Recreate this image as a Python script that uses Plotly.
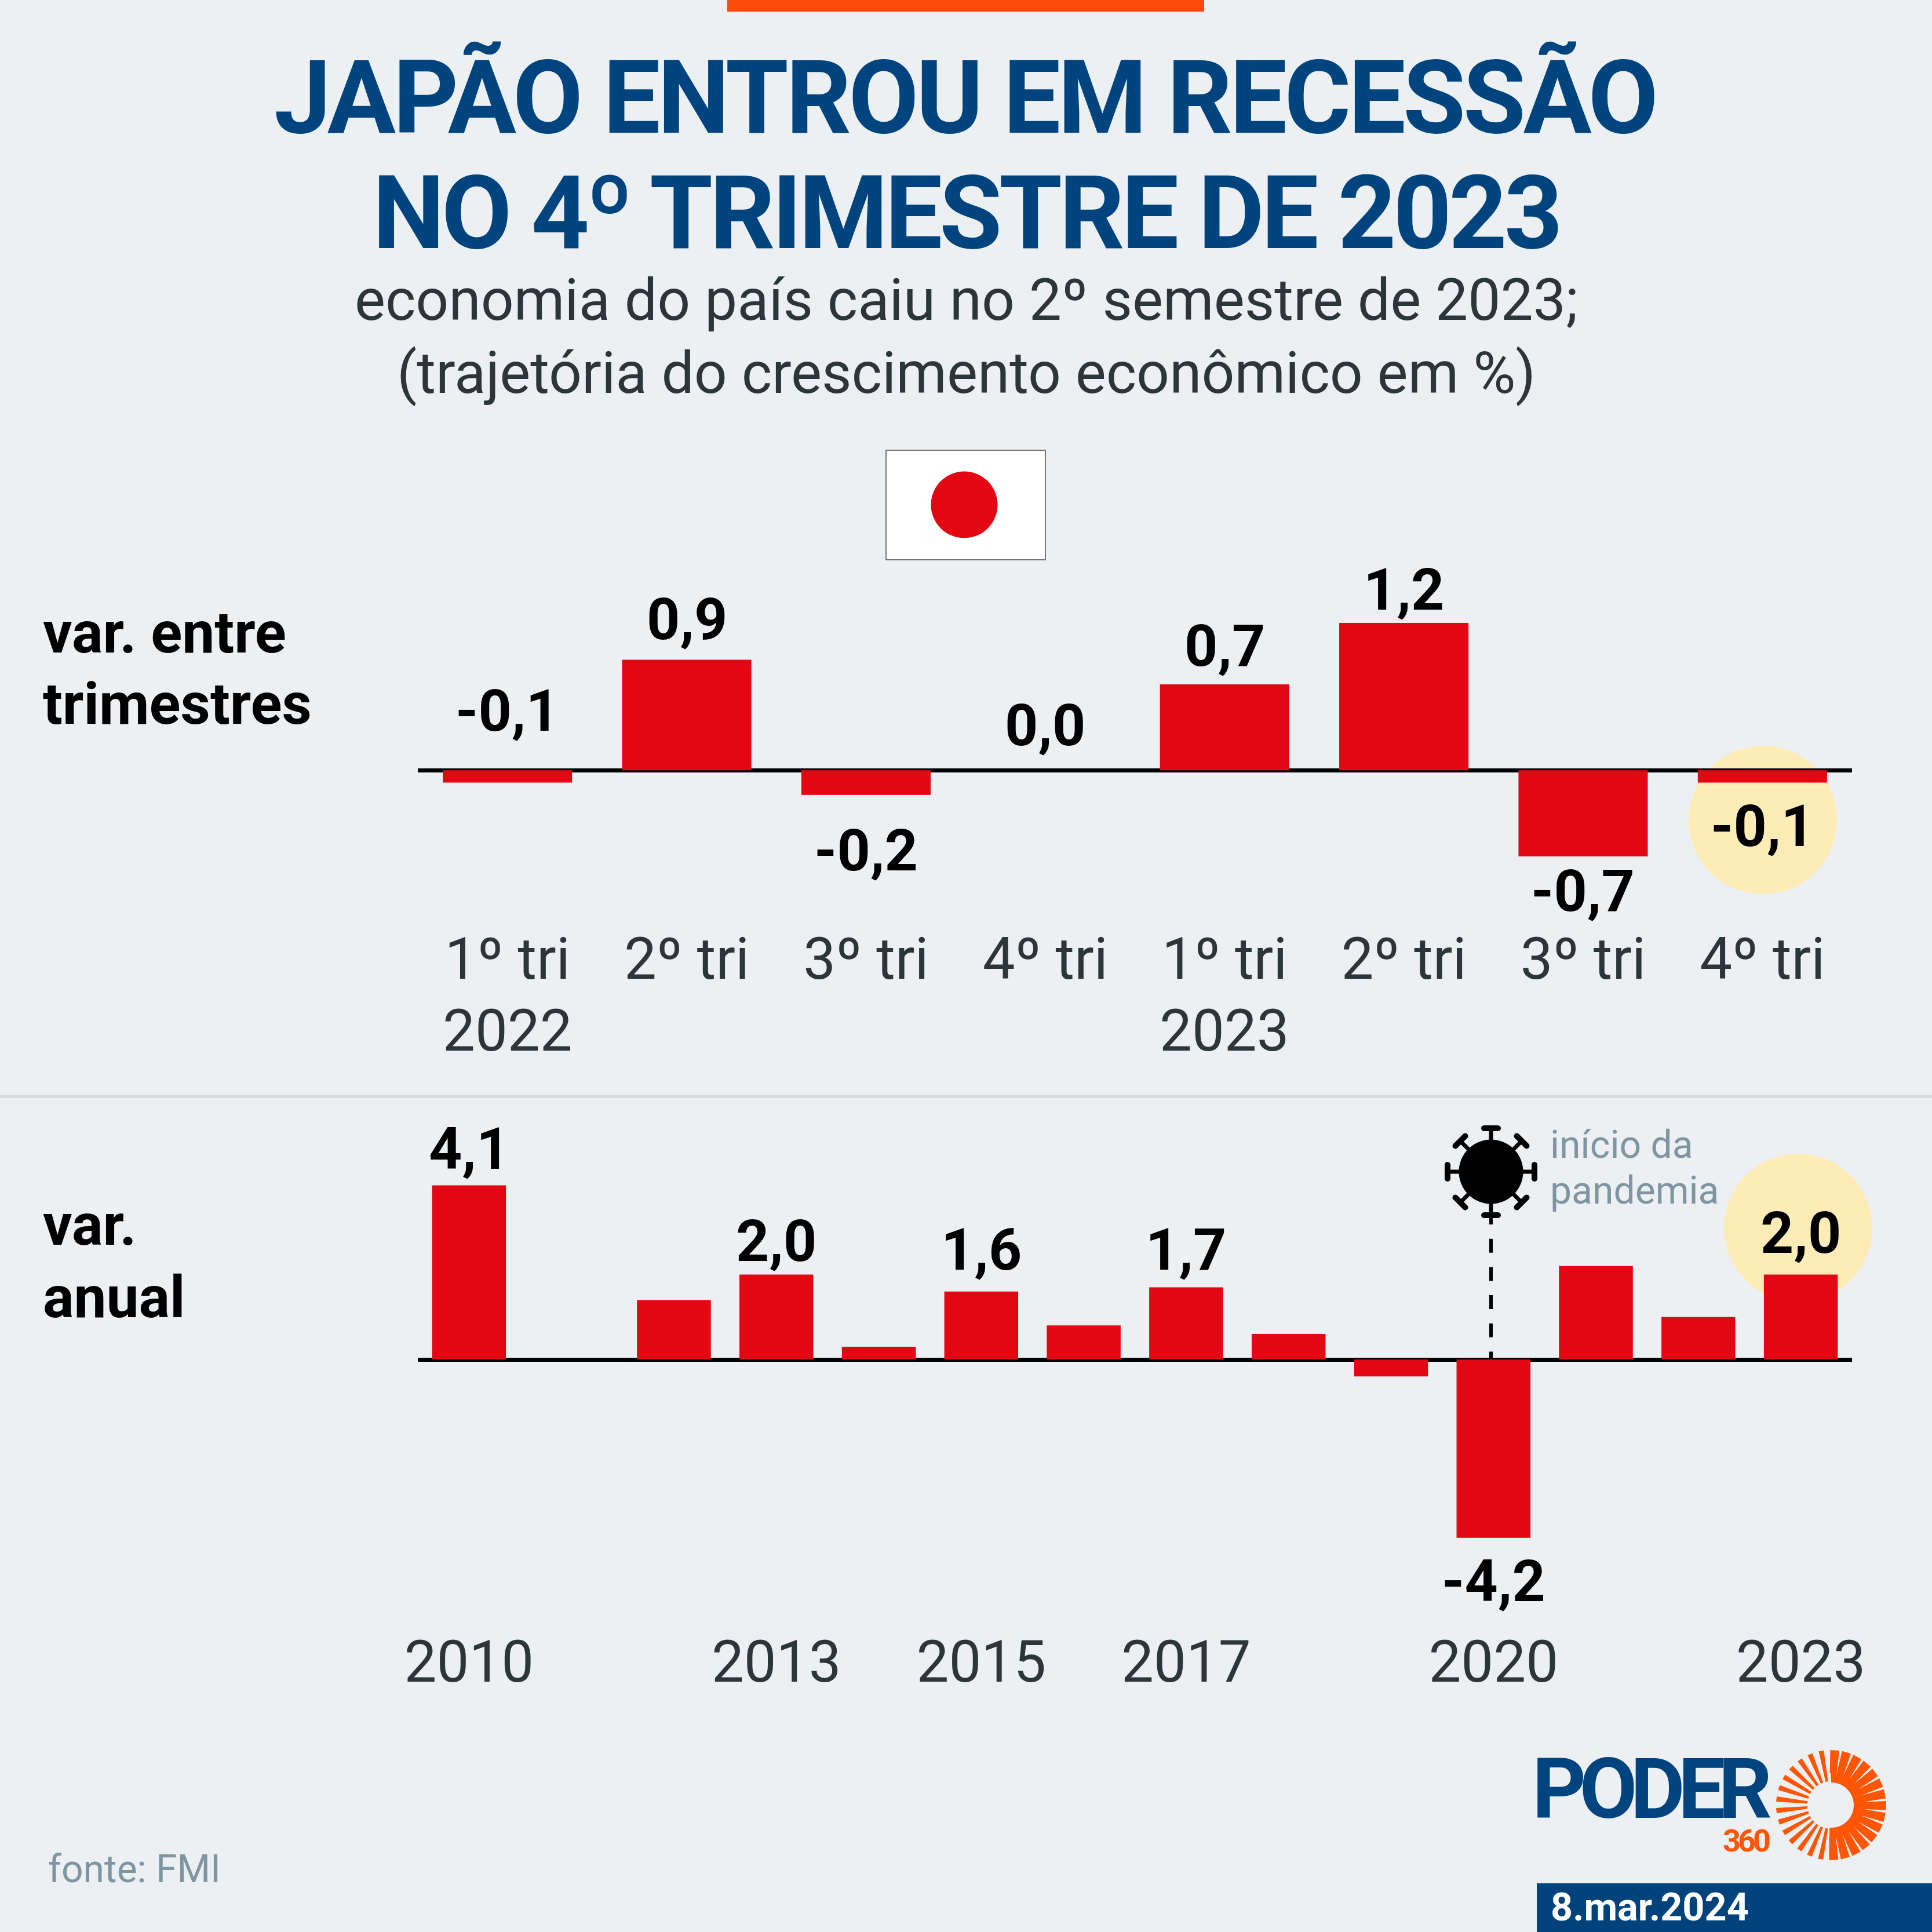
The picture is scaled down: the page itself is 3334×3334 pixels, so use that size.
import math
import plotly.graph_objects as go

# ---- data ----
quarter_labels = ["1º tri", "2º tri", "3º tri", "4º tri", "1º tri", "2º tri", "3º tri", "4º tri"]
quarter_values = [-0.1, 0.9, -0.2, 0.0, 0.7, 1.2, -0.7, -0.1]
quarter_years = {0: "2022", 4: "2023"}

years = [2010, 2011, 2012, 2013, 2014, 2015, 2016, 2017, 2018, 2019, 2020, 2021, 2022, 2023]
year_values = [4.1, 0.0, 1.4, 2.0, 0.3, 1.6, 0.8, 1.7, 0.6, -0.4, -4.2, 2.2, 1.0, 2.0]
year_ticks = [2010, 2013, 2015, 2017, 2020, 2023]

# ---- layout constants (page pixels) ----
W = H = 3334
BG = "#ECF0F3"
RED = "#E30613"
NAVY = "#00447F"
ORANGE = "#FF5605"
DARK = "#2C3539"
GREY = "#7F95A1"
CREAM = "#FEECB6"
ROBOTO = "Roboto"

PX = lambda x: x / W
PY = lambda y: 1 - y / H

quarter_label_y = [1226, 1068, 1467, 1252, 1114, 1017, 1537, 1426]
year_label_y = {2010: 1982, 2013: 2141, 2015: 2156, 2017: 2156, 2020: 2728, 2023: 2127}


def fmt(v):
    return f"{v:.1f}".replace(".", ",")


annotations = []


def txt(x, y, text, size, color, bold=False, anchor="center", xref="paper", spacing=None):
    if spacing is not None:
        text = f'<span style="letter-spacing:{spacing}px">{text}</span>'
    annotations.append(dict(
        x=x if xref != "paper" else PX(x), y=PY(y), xref=xref, yref="paper",
        text=text, showarrow=False, xanchor=anchor, yanchor="middle",
        font=dict(family=ROBOTO, size=size, color=color, weight=700 if bold else 400),
    ))


shapes = []


def rect(x0, y0, x1, y1, fill, line=None, lw=0, layer="below"):
    shapes.append(dict(type="rect", xref="paper", yref="paper", x0=PX(x0), x1=PX(x1),
                       y0=PY(y0), y1=PY(y1), fillcolor=fill, layer=layer,
                       line=dict(color=line or fill, width=lw)))


def circle(cx, cy, r, fill, layer="below"):
    shapes.append(dict(type="circle", xref="paper", yref="paper", x0=PX(cx - r), x1=PX(cx + r),
                       y0=PY(cy - r), y1=PY(cy + r), fillcolor=fill, layer=layer,
                       line=dict(width=0)))


def poly(points, fill, layer="above"):
    path = "M " + " L ".join(f"{PX(x):.6f},{PY(y):.6f}" for x, y in points) + " Z"
    shapes.append(dict(type="path", path=path, xref="paper", yref="paper",
                       fillcolor=fill, layer=layer, line=dict(width=0)))


def capsule(x0, y0, x1, y1, w, fill):
    ang = math.atan2(y1 - y0, x1 - x0)
    pts = []
    for k in range(9):
        a = ang + math.pi / 2 + math.pi * k / 8
        pts.append((x0 + w / 2 * math.cos(a), y0 + w / 2 * math.sin(a)))
    for k in range(9):
        a = ang - math.pi / 2 + math.pi * k / 8
        pts.append((x1 + w / 2 * math.cos(a), y1 + w / 2 * math.sin(a)))
    poly(pts, fill)


# background furniture
rect(1255, 0, 2078, 20, "#FF4A0A")
rect(0, 1890, W, 1895, "#D6DBDF")
rect(1529, 777, 1804, 966, "#FFFFFF", "#777777", 2)
circle(1664, 871, 57.5, RED, "above")
circle(3042, 1415, 128, CREAM)
circle(3103, 2119, 128, CREAM)
rect(2652, 3250, W, H, "#00437C")

# pandemic marker
VX, VY = 2573, 2022
shapes.append(dict(type="line", xref="paper", yref="paper", x0=PX(VX), x1=PX(VX),
                   y0=PY(2089), y1=PY(2343), layer="below",
                   line=dict(color="#000000", width=6, dash="24px,24.7px")))
circle(VX, VY, 55.5, "#000000", "above")
for deg in range(0, 360, 45):
    a = math.radians(deg)
    c, s = math.cos(a), math.sin(a)
    capsule(VX + 50 * c, VY + 50 * s, VX + 75 * c, VY + 75 * s, 7, "#000000")
    capsule(VX + 75 * c - 12 * s, VY + 75 * s + 12 * c,
            VX + 75 * c + 12 * s, VY + 75 * s - 12 * c, 10, "#000000")

# logo sun
SX, SY = 3160, 3115
RI, RO = 39, 95
STEP = 12.4
for k in range(15):
    t = -1 + k * STEP
    a0, a1 = math.radians(t - 90), math.radians(t + STEP - 2.8 - 90)
    rm = 55
    pts = [(SX + RO * math.cos(a0), SY + RO * math.sin(a0)),
           (SX + RO * math.cos(a1), SY + RO * math.sin(a1)),
           (SX + rm * math.cos(a1 + math.radians(1.4)), SY + rm * math.sin(a1 + math.radians(1.4))),
           (SX + rm * math.cos(a0 - math.radians(1.4)), SY + rm * math.sin(a0 - math.radians(1.4)))]
    poly(pts, ORANGE)
outer = [(SX + 56 * math.sin(math.radians(t)), SY - 56 * math.cos(math.radians(t))) for t in range(-1, 185, 4)]
inner = [(SX + RI * math.sin(math.radians(t)), SY - RI * math.cos(math.radians(t))) for t in range(184, -2, -4)]
poly(outer + inner, ORANGE)
for k in range(14):
    t = 191 + k * 12.2
    c, s = math.sin(math.radians(t)), -math.cos(math.radians(t))
    nx, ny = -s, c
    wo, wi = 4.5, 2.2
    poly([(SX + 95 * c + wo * nx, SY + 95 * s + wo * ny),
          (SX + 95 * c - wo * nx, SY + 95 * s - wo * ny),
          (SX + 41 * c - wi * nx, SY + 41 * s - wi * ny),
          (SX + 41 * c + wi * nx, SY + 41 * s + wi * ny)], ORANGE)

# titles
txt(1665, 169, "JAPÃO ENTROU EM RECESSÃO", 176, NAVY, True, spacing=-4.7)
txt(1667, 368, "NO 4º TRIMESTRE DE 2023", 176, NAVY, True, spacing=-5.3)
txt(1667, 517, "economia do país caiu no 2º semestre de 2023;", 100, DARK)
txt(1667, 643, "(trajetória do crescimento econômico em %)", 100, DARK)

# row labels
txt(72, 1091, "var. entre", 100, "#000000", True, "left")
txt(72, 1215, "trimestres", 100, "#000000", True, "left")
txt(72, 2113, "var.", 100, "#000000", True, "left")
txt(72, 2238, "anual", 100, "#000000", True, "left")

# notes, logo, date
txt(2673, 1975, "início da", 66, GREY, False, "left")
txt(2673, 2054, "pandemia", 66, GREY, False, "left")
txt(81, 3225, "fonte: FMI", 66, GREY, False, "left")
txt(2642, 3087, "PODER", 145, NAVY, True, "left", spacing=-12)
txt(2971, 3176, "360", 54, ORANGE, True, "left", spacing=-5)
txt(2674, 3291, "8.mar.2024", 66.5, "#FFFFFF", True, "left")

# value labels
for i, v in enumerate(quarter_values):
    txt(i, quarter_label_y[i], fmt(v), 100, "#000000", True, xref="x")
for y, v in zip(years, year_values):
    if y in year_label_y:
        txt(y, year_label_y[y], fmt(v), 100, "#000000", True, xref="x2")
for i, yr in quarter_years.items():
    txt(i, 1779, yr, 99.5, DARK, xref="x")

fig = go.Figure()
fig.add_trace(go.Bar(x=list(range(len(quarter_values))), y=quarter_values, marker=dict(color=RED, line=dict(width=0)),
                     xaxis="x", yaxis="y", showlegend=False))
fig.add_trace(go.Bar(x=years, y=year_values, marker=dict(color=RED, line=dict(width=0)),
                     xaxis="x2", yaxis="y2", showlegend=False))

X0, X1 = 721, 3196
T0, TZ, TB, TU = 900, 1329.3, 1588, 212
B0, BZ, BB, BU = 1950, 2346, 2801, 73.3


def yaxis(top, zero, bottom, unit, anchor):
    return dict(domain=[PY(bottom), PY(top)], range=[(zero - bottom) / unit, (zero - top) / unit],
                showgrid=False, showticklabels=False, ticks="", zeroline=True,
                zerolinecolor="#000000", zerolinewidth=6.5, anchor=anchor, fixedrange=True)


def xaxis(rng, vals, text, anchor):
    return dict(domain=[PX(X0), PX(X1)], range=rng, tickmode="array", tickvals=vals, ticktext=text,
                showgrid=False, zeroline=False, showline=False, ticks="", anchor=anchor,
                tickfont=dict(family=ROBOTO, size=99.5, color=DARK), tickangle=0, fixedrange=True)


fig.update_layout(
    width=W, height=H, autosize=False,
    margin=dict(l=0, r=0, t=0, b=0, pad=0, autoexpand=False),
    paper_bgcolor=BG, plot_bgcolor="rgba(0,0,0,0)",
    bargap=0.279, showlegend=False,
    font=dict(family=ROBOTO),
    xaxis=xaxis([-0.5, 7.5], list(range(8)), quarter_labels, "y"),
    yaxis=yaxis(T0, TZ, TB, TU, "x"),
    xaxis2=xaxis([2009.5, 2023.5], year_ticks, [str(y) for y in year_ticks], "y2"),
    yaxis2=yaxis(B0, BZ, BB, BU, "x2"),
    shapes=shapes,
    annotations=annotations,
)

fig.write_html("out.html", config={"displayModeBar": False},
               post_script="document.body.style.margin='0';document.body.style.overflow='hidden';")
